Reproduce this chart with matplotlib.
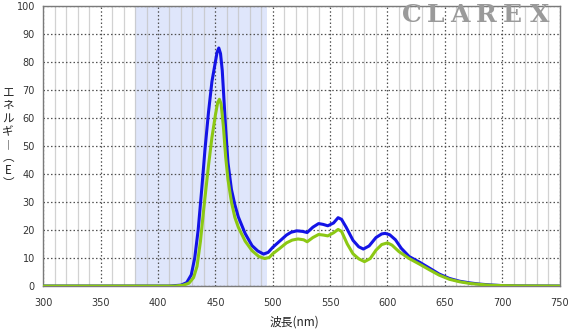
import matplotlib
matplotlib.use("Agg")
import matplotlib.pyplot as plt
from matplotlib.ticker import MultipleLocator

# ---- data ----
blue_wl = [300, 410, 420, 425, 429, 432, 435, 438, 441, 444, 447, 450, 451.5, 453, 454.5,
           456, 457, 459, 461, 464, 467, 470, 476, 482, 487, 492, 496, 500, 506, 512, 516,
           521, 526, 530, 535, 540, 544, 548, 553, 557, 560, 564, 570, 575, 579, 584, 590,
           595, 598, 602, 607, 612, 619, 628, 637, 645, 654, 663, 672, 680, 689, 700, 715, 750]
blue_e = [0, 0, 0.3, 1.2, 4, 10, 20, 34, 49, 62, 73, 80, 83.5, 85, 83,
          77, 70, 56, 44, 34.5, 29, 24.7, 18.7, 14.4, 12.5, 11.4, 12, 13.8, 16, 18.2, 19.2,
          19.7, 19.5, 19.1, 21, 22.3, 22, 21.5, 22.5, 24.4, 23.8, 21, 16.3, 14, 13.2, 14.3, 17.3,
          18.6, 18.8, 18.3, 16.5, 13.5, 10.5, 8.5, 6.3, 4.3, 2.7, 1.7, 1.1, 0.7, 0.4, 0.15, 0.05, 0]

green_wl = [300, 415, 422, 427, 431, 434, 437, 440, 444, 447, 450, 452, 453.5, 455, 457,
            459, 461, 464, 467, 470, 476, 482, 488, 493, 497, 500, 506, 512, 517, 522, 527,
            530, 535, 540, 544, 548, 553, 557, 560, 565, 570, 575, 580, 585, 590, 595, 600,
            604, 610, 619, 628, 637, 645, 654, 663, 672, 680, 689, 700, 715, 750]
green_e = [0, 0, 0.3, 1, 3, 7, 16, 28, 43, 53, 61, 65.5, 66.7, 65, 57,
           46, 38, 30, 24.5, 21, 16, 12.6, 10.5, 9.8, 10.2, 11.5, 13.4, 15.4, 16.4, 16.8, 16.5,
           15.8, 17.3, 18.4, 18.2, 17.9, 19, 20.2, 19.5, 15, 11.5, 9.7, 8.7, 9.8, 12.8, 14.8, 15.4,
           14.6, 12.3, 9.8, 7.8, 5.7, 3.9, 2.4, 1.5, 0.9, 0.6, 0.3, 0.15, 0.05, 0]

band = (380, 495)
x_ticks = [300, 350, 400, 450, 500, 550, 600, 650, 700, 750]
y_ticks = [0, 10, 20, 30, 40, 50, 60, 70, 80, 90, 100]
xlabel = "波長(nm)"
ylabel = "エ\nネ\nル\nギ\n︱\n︵\nE\n︶"
watermark_letters = ["C", "L", "A", "R", "E", "X"]

# ---- figure ----
W, H = 568, 332
fig = plt.figure(figsize=(W / 100, H / 100), dpi=100)
ax = fig.add_axes([43.3 / W, 1 - 286 / H, (559.5 - 43.3) / W, (286 - 6) / H])

ax.set_xlim(300, 750)
ax.set_ylim(0, 100)

ax.axvspan(band[0], band[1], color="#dfe6fb", zorder=0, lw=0)

# minor vertical grid every 10
ax.xaxis.set_minor_locator(MultipleLocator(10))
ax.grid(which="minor", axis="x", color="#c4c4c4", lw=0.9, alpha=0.75, zorder=1)
ax.set_xticks(x_ticks)
ax.set_yticks(y_ticks)
ax.grid(which="major", axis="both", color="#505050", lw=0.9, linestyle=(0, (1.2, 1.8)), zorder=1.5)
ax.set_axisbelow(True)

ax.plot(blue_wl, blue_e, color="#1414e6", lw=2.2, zorder=3,
        solid_joinstyle="round", solid_capstyle="round")
ax.plot(green_wl, green_e, color="#8cc814", lw=2.2, zorder=4,
        solid_joinstyle="round", solid_capstyle="round")

for s in ax.spines.values():
    s.set_color("#7a7a7a")
    s.set_linewidth(1.0)

ax.tick_params(which="both", length=0, labelsize=7, colors="#333333")
ax.tick_params(axis="x", pad=9)
ax.tick_params(axis="y", pad=6)
for lab in ax.get_xticklabels() + ax.get_yticklabels():
    lab.set_fontfamily("DejaVu Sans")

# watermark (letter-spaced)
wm_x = [412, 436, 459.5, 486.5, 512.5, 539.5]
for ch, xx in zip(watermark_letters, wm_x):
    fig.text(xx / W, 1 - 15.5 / H, ch, ha="center", va="center", fontsize=18,
             fontweight="bold", family="DejaVu Serif", color="#9a9a9a", zorder=5)

# x label
fig.text(294 / W, 1 - 322 / H, xlabel, ha="center", va="center", fontsize=8.5,
         family=["Noto Sans CJK JP", "DejaVu Sans"], color="#222222")

# vertical y label (stacked characters)
fig.text(8 / W, 1 - 138 / H, ylabel, ha="center", va="center", fontsize=8.3,
         linespacing=1.0, multialignment="center",
         family=["Noto Sans CJK JP", "DejaVu Sans"], color="#222222")

fig.savefig("out.png", dpi=100)
